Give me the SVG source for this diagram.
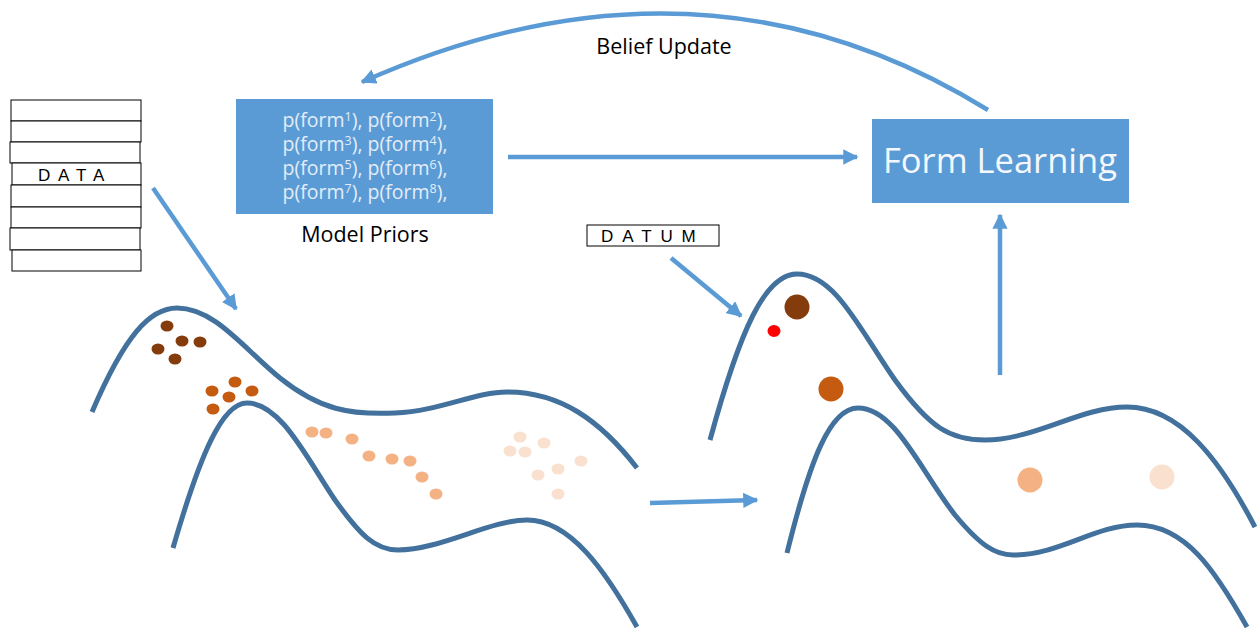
<svg xmlns="http://www.w3.org/2000/svg" width="1257" height="628" viewBox="0 0 1257 628">
<style>
.box{fill:#5b9bd5}
.cell{fill:#fff;stroke:#000;stroke-width:1}
.curve{fill:none;stroke:#41719c;stroke-width:5;stroke-linecap:butt}
.arr{fill:none;stroke:#5b9bd5;stroke-width:4.5}
.lbl{font-family:"Open Sans","Noto Sans",sans-serif;fill:#000}
.mono{font-family:"Liberation Sans",Arial,sans-serif;font-size:17px;fill:#000}
.pri{font-family:"Open Sans","Noto Sans",sans-serif;font-size:19.5px;fill:#e3edf8}
.sup{font-size:12.5px}
.d1{fill:#843c0c}.d2{fill:#c55a11}.d3{fill:#f4b183}.d4{fill:#fae0cf}
</style>
<defs>
<marker id="ah" viewBox="0 0 10 10" refX="9" refY="5" markerWidth="3.4" markerHeight="3.4" orient="auto" markerUnits="strokeWidth">
<path d="M0,0 L10,5 L0,10 z" fill="#5b9bd5"/>
</marker>
</defs>

<g id="data">
<rect class="cell" x="11" y="100" width="130" height="21"/>
<rect class="cell" x="11" y="121" width="130" height="21"/>
<rect class="cell" x="10" y="142" width="130" height="21"/>
<rect class="cell" x="12" y="163" width="129" height="22"/>
<rect class="cell" x="11" y="185" width="130" height="22"/>
<rect class="cell" x="11" y="207" width="130" height="21"/>
<rect class="cell" x="10" y="228" width="130" height="22"/>
<rect class="cell" x="12" y="250" width="129" height="21"/>
<text class="mono" x="38" y="181" letter-spacing="7.8">DATA</text>
</g>

<g id="model-priors">
<rect class="box" x="236" y="99" width="257" height="115"/>
<text class="pri" x="365" y="127" text-anchor="middle">p(form<tspan class="sup" dy="-6">1</tspan><tspan dy="6">), p(form</tspan><tspan class="sup" dy="-6">2</tspan><tspan dy="6">),</tspan></text>
<text class="pri" x="365" y="151" text-anchor="middle">p(form<tspan class="sup" dy="-6">3</tspan><tspan dy="6">), p(form</tspan><tspan class="sup" dy="-6">4</tspan><tspan dy="6">),</tspan></text>
<text class="pri" x="365" y="175" text-anchor="middle">p(form<tspan class="sup" dy="-6">5</tspan><tspan dy="6">), p(form</tspan><tspan class="sup" dy="-6">6</tspan><tspan dy="6">),</tspan></text>
<text class="pri" x="365" y="199" text-anchor="middle">p(form<tspan class="sup" dy="-6">7</tspan><tspan dy="6">), p(form</tspan><tspan class="sup" dy="-6">8</tspan><tspan dy="6">),</tspan></text>
<text class="lbl" x="365" y="242" font-size="21.5" text-anchor="middle">Model Priors</text>
</g>

<g id="form-learning">
<rect class="box" x="872" y="119" width="257" height="84"/>
<text x="1000" y="173" font-family="Open Sans, Noto Sans, sans-serif" font-size="34.5" fill="#f4f7fb" text-anchor="middle">Form Learning</text>
</g>

<g id="datum">
<rect class="cell" x="587" y="225" width="132" height="21"/>
<text class="mono" x="601" y="242" letter-spacing="8.9">DATUM</text>
</g>

<g id="belief-label">
<text class="lbl" x="664" y="54" font-size="21.5" text-anchor="middle">Belief Update</text>
</g>

<g id="left-manifold">
<path class="curve" d="M92,412 C125,335 150,308 177,308 C215,308 245,350 280,378 C320,410 350,415 395,413 C440,411 475,392 507,392 C560,392 600,420 637,468"/>
<path class="curve" d="M173,548 C200,455 222,403 247,403 C280,403 305,455 335,500 C360,535 375,550 398,550 C440,550 490,520 527,520 C570,520 605,570 637,627"/>
<ellipse class="d1" cx="167" cy="326" rx="6.5" ry="5.5"/>
<ellipse class="d1" cx="182" cy="341" rx="6.5" ry="5.5"/>
<ellipse class="d1" cx="200" cy="342" rx="6.5" ry="5.5"/>
<ellipse class="d1" cx="158" cy="349" rx="6.5" ry="5.5"/>
<ellipse class="d1" cx="175" cy="359" rx="6.5" ry="5.5"/>
<ellipse class="d2" cx="235" cy="382" rx="6.5" ry="5.5"/>
<ellipse class="d2" cx="212" cy="391" rx="6.5" ry="5.5"/>
<ellipse class="d2" cx="252" cy="391" rx="6.5" ry="5.5"/>
<ellipse class="d2" cx="229" cy="397" rx="6.5" ry="5.5"/>
<ellipse class="d2" cx="213" cy="409" rx="6.5" ry="5.5"/>
<ellipse class="d3" cx="312" cy="432" rx="6.5" ry="5.5"/>
<ellipse class="d3" cx="326" cy="433" rx="6.5" ry="5.5"/>
<ellipse class="d3" cx="352" cy="439" rx="6.5" ry="5.5"/>
<ellipse class="d3" cx="369" cy="456" rx="6.5" ry="5.5"/>
<ellipse class="d3" cx="392" cy="459" rx="6.5" ry="5.5"/>
<ellipse class="d3" cx="410" cy="461" rx="6.5" ry="5.5"/>
<ellipse class="d3" cx="422" cy="477" rx="6.5" ry="5.5"/>
<ellipse class="d3" cx="436" cy="494" rx="6.5" ry="5.5"/>
<ellipse class="d4" cx="520" cy="437" rx="6.5" ry="5.5"/>
<ellipse class="d4" cx="544" cy="443" rx="6.5" ry="5.5"/>
<ellipse class="d4" cx="510" cy="451" rx="6.5" ry="5.5"/>
<ellipse class="d4" cx="525" cy="452" rx="6.5" ry="5.5"/>
<ellipse class="d4" cx="581" cy="461" rx="6.5" ry="5.5"/>
<ellipse class="d4" cx="558" cy="469" rx="6.5" ry="5.5"/>
<ellipse class="d4" cx="538" cy="475" rx="6.5" ry="5.5"/>
<ellipse class="d4" cx="558" cy="494" rx="6.5" ry="5.5"/>
</g>

<g id="right-manifold">
<path class="curve" d="M710,440 C740,330 765,274 797,274 C835,274 860,330 895,380 C930,428 950,440 985,440 C1035,440 1080,407 1127,407 C1180,407 1220,460 1255,527"/>
<path class="curve" d="M787,553 C810,460 830,408 858,408 C895,408 920,470 955,515 C980,545 995,555 1013,555 C1060,555 1095,525 1137,525 C1185,525 1215,570 1247,627"/>
<circle class="d1" cx="797" cy="307" r="12.5"/>
<ellipse cx="774" cy="331" rx="6.5" ry="6" fill="#ff0000"/>
<circle class="d2" cx="831" cy="389" r="12.5"/>
<circle class="d3" cx="1030" cy="480" r="12.5"/>
<circle class="d4" cx="1162" cy="477" r="12.5"/>
</g>

<g id="connectors">
<path class="arr" marker-end="url(#ah)" d="M988,110 Q700,-68 362,82"/>
<path class="arr" marker-end="url(#ah)" d="M508,157 L857,157"/>
<path class="arr" marker-end="url(#ah)" d="M1000,375 L1000,215"/>
<path class="arr" marker-end="url(#ah)" d="M153,188 L236,309"/>
<path class="arr" marker-end="url(#ah)" d="M671,258 L741,316"/>
<path class="arr" marker-end="url(#ah)" d="M650,503 L757,500"/>
</g>
</svg>
